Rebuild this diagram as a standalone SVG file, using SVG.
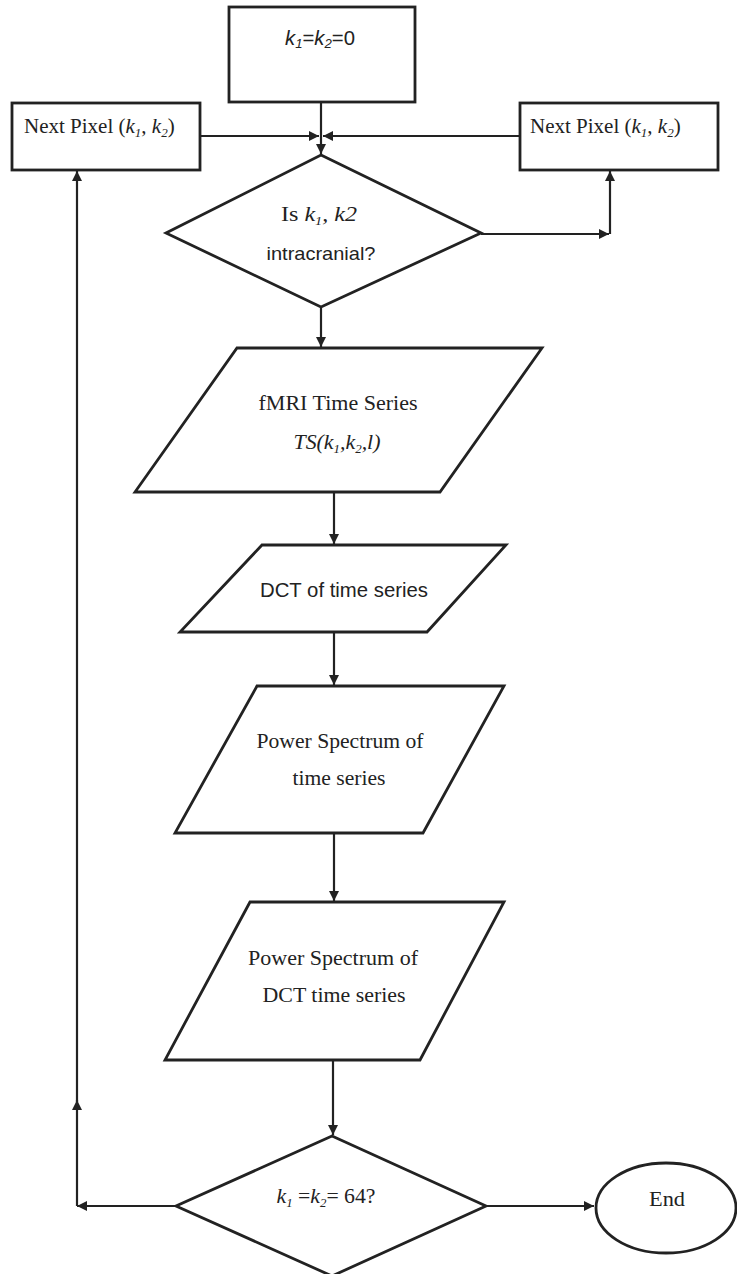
<svg xmlns="http://www.w3.org/2000/svg" width="737" height="1274" viewBox="0 0 737 1274">
<style>
.shape{fill:#fff;stroke:#222;stroke-width:2.8}
.edge{fill:none;stroke:#222;stroke-width:2.2}
.serif{font-family:"Liberation Serif","Times New Roman",serif;fill:#222}
.sans{font-family:"Liberation Sans",Arial,sans-serif;fill:#222}
.it{font-style:italic}
</style>
<defs>
<marker id="ah" viewBox="0 0 10 10" refX="10" refY="5" markerWidth="11" markerHeight="10" markerUnits="userSpaceOnUse" orient="auto">
<path d="M0,0 L10,5 L0,10 Z" fill="#222"/>
</marker>
</defs>
<rect width="737" height="1274" fill="#fff"/>

<g id="connectors">
<line class="edge" x1="321" y1="102" x2="321" y2="154" marker-end="url(#ah)"/>
<line class="edge" x1="200" y1="136" x2="319" y2="136" marker-end="url(#ah)"/>
<line class="edge" x1="520" y1="136" x2="323" y2="136" marker-end="url(#ah)"/>
<line class="edge" x1="481" y1="234" x2="609" y2="234" marker-end="url(#ah)"/>
<line class="edge" x1="610" y1="234" x2="610" y2="171" marker-end="url(#ah)"/>
<line class="edge" x1="321" y1="308" x2="321" y2="347" marker-end="url(#ah)"/>
<line class="edge" x1="334" y1="492" x2="334" y2="544" marker-end="url(#ah)"/>
<line class="edge" x1="334" y1="632" x2="334" y2="685" marker-end="url(#ah)"/>
<line class="edge" x1="334" y1="833" x2="334" y2="901" marker-end="url(#ah)"/>
<line class="edge" x1="333" y1="1060" x2="333" y2="1135" marker-end="url(#ah)"/>
<line class="edge" x1="176" y1="1206" x2="77" y2="1206" marker-end="url(#ah)"/>
<line class="edge" x1="77" y1="1206" x2="77" y2="1100" marker-end="url(#ah)"/>
<line class="edge" x1="77" y1="1102" x2="77" y2="171" marker-end="url(#ah)"/>
<line class="edge" x1="486" y1="1206" x2="594" y2="1206" marker-end="url(#ah)"/>
</g>

<g id="start">
<rect class="shape" x="229" y="7" width="186" height="95"/>
<text class="sans it" x="320" y="45" font-size="20" text-anchor="middle" textLength="70" lengthAdjust="spacingAndGlyphs">k<tspan font-size="13" dy="3">1</tspan><tspan dy="-3" font-style="normal">=</tspan>k<tspan font-size="13" dy="3">2</tspan><tspan dy="-3" font-style="normal">=0</tspan></text>
</g>

<g id="next-left">
<rect class="shape" x="12" y="103" width="188" height="67"/>
<text class="serif" x="24" y="133" font-size="21">Next Pixel (<tspan class="it">k</tspan><tspan class="it" font-size="13" dy="4">1</tspan><tspan dy="-4">, </tspan><tspan class="it">k</tspan><tspan class="it" font-size="13" dy="4">2</tspan><tspan dy="-4">)</tspan></text>
</g>

<g id="next-right">
<rect class="shape" x="520" y="103" width="198" height="67"/>
<text class="serif" x="530" y="133" font-size="21">Next Pixel (<tspan class="it">k</tspan><tspan class="it" font-size="13" dy="4">1</tspan><tspan dy="-4">, </tspan><tspan class="it">k</tspan><tspan class="it" font-size="13" dy="4">2</tspan><tspan dy="-4">)</tspan></text>
</g>

<g id="decision-intracranial">
<polygon class="shape" points="321,155 481,233 321,307 166,233"/>
<text class="serif" x="319" y="221" font-size="22" text-anchor="middle" textLength="76" lengthAdjust="spacingAndGlyphs">Is <tspan class="it">k</tspan><tspan class="it" font-size="13" dy="4">1</tspan><tspan dy="-4" class="it">, k2</tspan></text>
<text class="sans" x="321" y="260" font-size="19" text-anchor="middle" textLength="109" lengthAdjust="spacingAndGlyphs">intracranial?</text>
</g>

<g id="fmri">
<polygon class="shape" points="237,348 542,348 440,492 135,492"/>
<text class="serif" x="338" y="410" font-size="22" text-anchor="middle" textLength="159" lengthAdjust="spacingAndGlyphs">fMRI Time Series</text>
<text class="serif it" x="337" y="449" font-size="22" text-anchor="middle" textLength="87" lengthAdjust="spacingAndGlyphs">TS(k<tspan font-size="13" dy="4">1</tspan><tspan dy="-4">,k</tspan><tspan font-size="13" dy="4">2</tspan><tspan dy="-4">,l)</tspan></text>
</g>

<g id="dct">
<polygon class="shape" points="262,545 506,545 427,632 180,632"/>
<text class="sans" x="344" y="597" font-size="20" text-anchor="middle" textLength="168" lengthAdjust="spacingAndGlyphs">DCT  of time series</text>
</g>

<g id="ps-time">
<polygon class="shape" points="257,686 504,686 423,833 175,833"/>
<text class="serif" x="340" y="748" font-size="22" text-anchor="middle" textLength="167" lengthAdjust="spacingAndGlyphs">Power Spectrum of</text>
<text class="serif" x="339" y="785" font-size="22" text-anchor="middle" textLength="93" lengthAdjust="spacingAndGlyphs">time series</text>
</g>

<g id="ps-dct">
<polygon class="shape" points="250,902 504,902 420,1060 165,1060"/>
<text class="serif" x="333" y="965" font-size="22" text-anchor="middle" textLength="170" lengthAdjust="spacingAndGlyphs">Power Spectrum of</text>
<text class="serif" x="334" y="1002" font-size="22" text-anchor="middle" textLength="143" lengthAdjust="spacingAndGlyphs">DCT time series</text>
</g>

<g id="decision-64">
<polygon class="shape" points="332,1136 486,1206 332,1276 176,1206"/>
<text class="serif" x="326" y="1203" font-size="22" text-anchor="middle" textLength="99" lengthAdjust="spacingAndGlyphs"><tspan class="it">k</tspan><tspan class="it" font-size="13" dy="4">1</tspan><tspan dy="-4"> =</tspan><tspan class="it">k</tspan><tspan class="it" font-size="13" dy="4">2</tspan><tspan dy="-4">= 64?</tspan></text>
</g>

<g id="end">
<ellipse class="shape" cx="666" cy="1208" rx="70" ry="45"/>
<text class="serif" x="667" y="1206" font-size="22" text-anchor="middle" textLength="36" lengthAdjust="spacingAndGlyphs">End</text>
</g>
</svg>
